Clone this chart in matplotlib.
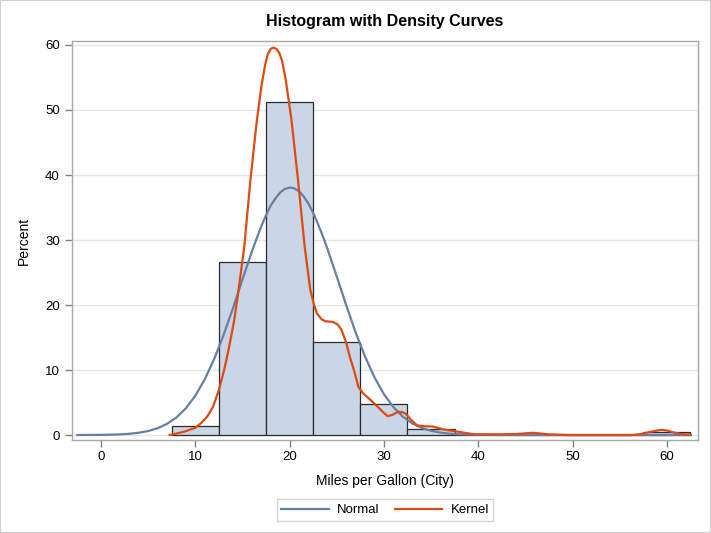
import matplotlib
matplotlib.use("Agg")
import matplotlib.pyplot as plt
from matplotlib.patches import Rectangle

plt.rcParams['font.family'] = ['Liberation Sans', 'DejaVu Sans']

# Histogram bins (midpoints) and percents
bin_mid = [10, 15, 20, 25, 30, 35, 40, 45, 50, 55, 60]
bin_pct = [1.4, 26.6, 51.2, 14.3, 4.7, 0.9, 0.23, 0.23, 0.0, 0.0, 0.47]
bin_width = 5

# Normal density curve
normal_x = [-2.5, 0, 1, 2, 3, 4, 5, 6, 7, 8, 9, 10, 11, 12, 13, 14, 15, 16, 16.5,
            17, 17.5, 18, 18.5, 19, 19.5, 20.06, 20.5, 21, 21.5, 22, 22.5, 23, 23.5,
            24, 25, 26, 27, 28, 29, 30, 31, 32, 33, 34, 35, 36, 37, 38, 39, 40, 45,
            62.5]
normal_y = [0.0, 0.03, 0.05, 0.10, 0.19, 0.35, 0.61, 1.04, 1.71, 2.70, 4.10, 6.03,
            8.54, 11.67, 15.37, 19.5, 23.9, 28.2, 30.2, 32.1, 33.8, 35.3, 36.4, 37.3,
            37.86, 38.08, 37.95, 37.5, 36.7, 35.6, 34.2, 32.5, 30.7, 28.7, 24.4, 20.0,
            15.8, 12.08, 8.88, 6.29, 4.31, 2.84, 1.80, 1.11, 0.65, 0.37, 0.20, 0.11,
            0.06, 0.03, 0.0, 0.0]

# Kernel density curve
kernel_x = [7.3, 8.8, 10.0, 10.6, 11.3, 11.9, 12.5, 13.1, 13.6, 14.1, 14.5, 15.2,
            15.85, 16.5, 17.0, 17.4, 17.7, 18.0, 18.3, 18.6, 18.9, 19.2, 19.6, 20.2,
            20.9, 21.6, 22.2, 22.6, 22.9, 23.4, 23.8, 24.6, 25.1, 25.5, 26.0, 26.4,
            26.9, 27.3, 27.8, 28.2, 28.8, 29.3, 30.0, 30.4, 30.9, 31.5, 32.0, 32.3,
            32.9, 33.5, 34.3, 35.2, 36.5, 37.9, 39.6, 42.3, 44.0, 45.8, 47.5, 49.7,
            56.3, 57.3, 58.1, 59.4, 60.0, 60.7, 61.5, 62.5]
kernel_y = [0.0, 0.5, 1.1, 1.8, 2.9, 4.4, 6.9, 10.2, 13.6, 17.4, 21.3, 29.0,
            39.2, 48.0, 53.5, 56.9, 58.6, 59.4, 59.6, 59.4, 58.8, 57.6, 54.6, 48.5,
            39.2, 29.0, 22.3, 20.0, 18.7, 17.8, 17.5, 17.4, 17.0, 16.2, 14.2, 12.0,
            9.6, 7.4, 6.4, 5.9, 5.1, 4.4, 3.4, 2.9, 3.1, 3.6, 3.5, 3.3,
            2.3, 1.5, 1.35, 1.3, 0.8, 0.5, 0.1, 0.1, 0.15, 0.35, 0.1, 0.0,
            0.0, 0.15, 0.45, 0.8, 0.7, 0.4, 0.15, 0.05]

x_ticks = [0, 10, 20, 30, 40, 50, 60]
y_ticks = [0, 10, 20, 30, 40, 50, 60]

fig = plt.figure(figsize=(7.11, 5.33), dpi=100)
ax = fig.add_axes([0.1008, 0.1754, 0.9817 - 0.1008, 0.9223 - 0.1754])

ax.set_axisbelow(True)
ax.yaxis.grid(True, color='#E6E6E6', linewidth=1.0)

ax.bar(bin_mid, bin_pct, width=bin_width, color='#CAD5E5', edgecolor='#2B2B2B',
       linewidth=0.9, zorder=2)
ax.plot(normal_x, normal_y, color='#667FA2', linewidth=1.6, zorder=3, label='Normal',
        solid_joinstyle='round')
ax.plot(kernel_x, kernel_y, color='#DE4A12', linewidth=1.6, zorder=4, label='Kernel',
        solid_joinstyle='round')

ax.set_xlim(-3.1, 63.3)
ax.set_ylim(-0.69, 60.55)
ax.set_xticks(x_ticks)
ax.set_yticks(y_ticks)
ax.tick_params(axis='both', colors='#808080', labelcolor='black', labelsize=9.5,
               length=5, width=1, direction='out')
for s in ax.spines.values():
    s.set_color('#A8A8A8')
    s.set_linewidth(1.0)

ax.set_xlabel('Miles per Gallon (City)', fontsize=10, labelpad=8)
ax.set_ylabel('Percent', fontsize=10, labelpad=10)
ax.set_title('Histogram with Density Curves', fontsize=11.5, fontweight='bold', pad=11)

leg = fig.legend(loc='center', bbox_to_anchor=(385 / 711, 1 - 510 / 533), ncol=2,
                 frameon=True, fancybox=False, fontsize=9.5, handlelength=3.6,
                 columnspacing=1.2, handletextpad=0.6, borderpad=0.35)
leg.get_frame().set_edgecolor('#C8C8C8')
leg.get_frame().set_linewidth(1.0)

fig.patches.append(Rectangle((0, 0), 1, 1, transform=fig.transFigure, fill=False,
                             edgecolor='#D0D0D0', linewidth=1.5))

fig.savefig('out.png', dpi=100)
